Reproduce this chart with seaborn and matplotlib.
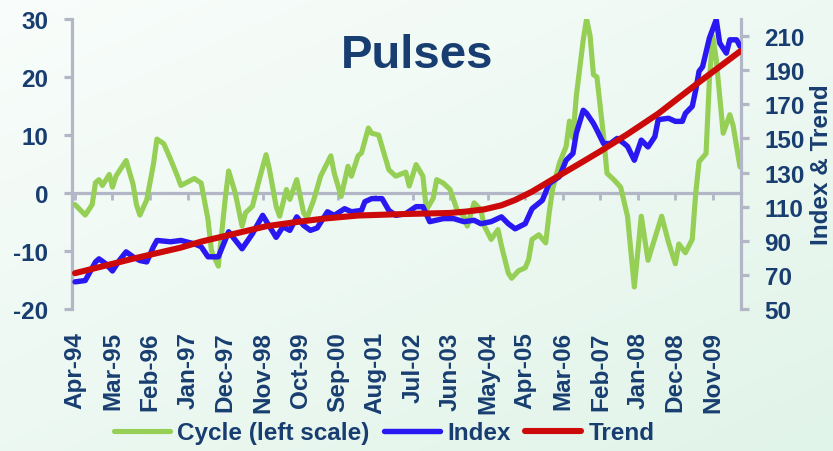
import numpy as np
import pandas as pd
import matplotlib
matplotlib.use("Agg")
import matplotlib.pyplot as plt
import matplotlib.dates as mdates
import seaborn as sns
from matplotlib.colors import LinearSegmentedColormap
from matplotlib.lines import Line2D

# ---------------- data ----------------
cycle_dates = [
    "1994-04", "1994-07", "1994-09", "1994-10", "1994-11", "1994-12",
    "1995-02", "1995-03", "1995-04", "1995-07", "1995-09", "1995-10", "1995-11",
    "1996-01", "1996-03", "1996-04", "1996-06", "1996-08", "1996-10", "1996-11",
    "1997-03", "1997-05", "1997-07", "1997-08", "1997-10", "1997-12",
    "1998-01", "1998-03", "1998-05", "1998-06", "1998-08", "1998-10", "1998-12",
    "1999-01", "1999-03", "1999-04", "1999-06", "1999-07", "1999-09", "1999-11", "1999-12",
    "2000-02", "2000-04", "2000-07", "2000-08", "2000-10", "2000-11", "2000-12",
    "2001-01", "2001-03", "2001-04", "2001-06", "2001-07", "2001-09", "2001-10", "2001-12",
    "2002-02", "2002-05", "2002-06", "2002-08", "2002-10", "2002-11",
    "2003-01", "2003-02", "2003-04", "2003-06", "2003-08", "2003-10", "2003-11",
    "2004-01", "2004-03", "2004-04", "2004-06", "2004-08", "2004-09", "2004-11", "2004-12",
    "2005-02", "2005-04", "2005-05", "2005-06", "2005-08", "2005-10", "2005-11", "2005-12",
    "2006-02", "2006-04", "2006-05", "2006-06", "2006-07", "2006-09", "2006-10", "2006-11", "2006-12",
    "2007-01", "2007-03", "2007-04", "2007-06", "2007-08", "2007-10", "2007-12",
    "2008-02", "2008-04", "2008-08", "2008-10", "2008-12",
    "2009-01", "2009-03", "2009-05", "2009-06", "2009-07", "2009-09", "2009-10", "2009-11", "2009-12",
    "2010-02", "2010-04", "2010-05", "2010-07",
]
cycle_values = [
    -2.0, -3.8, -2.0, 1.8, 2.3, 1.3,
    3.2, 1.0, 2.9, 5.6, 1.5, -2.0, -3.8,
    -1.2, 5.0, 9.3, 8.5, 5.8, 2.9, 1.3,
    2.5, 1.7, -4.6, -10.0, -12.6, -1.1,
    3.8, 0.0, -5.7, -3.4, -2.3, 2.3, 6.6,
    4.0, -2.3, -4.0, 0.6, -1.1, 2.3, -3.4, -4.3,
    -1.1, 2.9, 6.4, 3.4, -0.6, 2.0, 4.6,
    2.9, 6.4, 6.9, 11.2, 10.3, 10.0, 8.0, 4.0,
    2.9, 3.6, 1.2, 4.9, 2.9, -2.9,
    -0.9, 2.3, 1.7, 0.6, -2.9, -4.0, -5.7,
    -1.7, -2.9, -5.7, -8.0, -6.3, -9.1, -13.8, -14.7,
    -13.4, -12.9, -11.5, -8.0, -7.2, -8.6, -3.4, 0.6,
    5.2, 8.0, 12.4, 9.5, 16.7, 26.4, 30.0, 27.1, 20.4,
    20.0, 9.8, 3.4, 2.3, 1.0, -4.0, -16.2,
    -4.0, -11.6, -4.0, -8.5, -12.2,
    -8.8, -10.3, -8.0, 0.0, 5.4, 6.8, 19.5, 27.0, 23.0,
    10.3, 13.5, 11.6, 4.5,
]

index_dates = [
    "1994-04", "1994-07", "1994-10", "1994-11",
    "1995-01", "1995-03", "1995-05", "1995-07", "1995-09", "1995-11",
    "1996-01", "1996-03", "1996-04", "1996-08", "1996-11",
    "1997-03", "1997-05", "1997-07", "1997-10",
    "1998-01", "1998-05", "1998-08", "1998-11",
    "1999-03", "1999-05", "1999-07", "1999-09", "1999-11",
    "2000-01", "2000-03", "2000-06", "2000-08", "2000-11",
    "2001-01", "2001-04", "2001-05", "2001-07", "2001-10", "2001-12",
    "2002-02", "2002-05", "2002-08", "2002-10", "2002-12",
    "2003-04", "2003-07", "2003-10",
    "2004-01", "2004-03", "2004-06", "2004-09", "2004-11",
    "2005-01", "2005-04", "2005-06", "2005-09", "2005-11",
    "2006-02", "2006-04", "2006-06", "2006-07", "2006-09", "2006-10", "2006-12",
    "2007-01", "2007-03", "2007-05", "2007-07", "2007-09", "2007-10", "2007-12",
    "2008-02", "2008-04", "2008-06", "2008-07", "2008-10", "2008-12",
    "2009-02", "2009-03", "2009-05", "2009-06", "2009-07", "2009-08", "2009-10", "2009-12",
    "2010-01", "2010-03", "2010-04", "2010-06", "2010-07",
]
index_values = [
    65.9, 66.7, 77.6, 79.4,
    76.5, 72.3, 78.4, 83.5, 80.6, 78.4,
    77.6, 86.5, 90.2, 89.4, 90.2,
    88.2, 86.5, 80.6, 80.6,
    95.3, 85.3, 94.1, 104.9,
    92.0, 98.2, 96.1, 104.0, 99.0,
    96.1, 97.5, 107.0, 104.9, 108.8,
    107.0, 107.8, 112.9, 114.7, 114.7, 107.8,
    104.9, 105.9, 110.0, 110.0, 101.2,
    103.0, 103.0, 101.2,
    102.0, 100.0, 101.2, 104.0, 100.0,
    97.0, 100.0, 108.8, 113.7, 123.5,
    127.6, 137.2, 141.2, 153.0, 166.5, 164.7, 158.8,
    154.9, 147.0, 147.0, 150.0, 147.0, 145.3, 137.2,
    149.0, 145.0, 151.0, 161.0, 161.8, 160.0,
    160.0, 164.7, 168.8, 178.4, 189.4, 192.0, 208.8, 219.6,
    205.9, 200.0, 207.8, 207.8, 204.0,
]

trend_dates = [
    "1994-04", "1995-09", "1996-11", "1997-05", "1998-12", "1999-09",
    "2000-05", "2001-03", "2002-05", "2003-06", "2003-11", "2004-04",
    "2004-09", "2005-01", "2005-06", "2005-11", "2006-04", "2006-09",
    "2007-02", "2007-10", "2008-07", "2009-07", "2010-07",
]
trend_values = [
    71.0, 79.5, 86.0, 89.5, 98.5, 101.0,
    103.0, 104.8, 105.7, 106.3, 107.2, 108.4,
    110.8, 113.9, 118.8, 124.8, 130.6, 136.5,
    142.5, 152.5, 164.5, 183.0, 201.0,
]

x_tick_labels = ["Apr-94", "Mar-95", "Feb-96", "Jan-97", "Dec-97", "Nov-98",
                 "Oct-99", "Sep-00", "Aug-01", "Jul-02", "Jun-03", "May-04",
                 "Apr-05", "Mar-06", "Feb-07", "Jan-08", "Dec-08", "Nov-09"]
left_ticks = [-20, -10, 0, 10, 20, 30]
right_ticks = [50, 70, 90, 110, 130, 150, 170, 190, 210]

series_names = ["Cycle (left scale)", "Index", "Trend"]
title_text = "Pulses"
right_label = "Index & Trend"

# ---------------- style ----------------
sns.set_theme(style="white")
plt.rcParams["font.family"] = ["Liberation Sans", "DejaVu Sans"]
plt.rcParams["font.weight"] = "bold"
plt.rcParams["axes.unicode_minus"] = False

NAVY = "#183d70"
GRAY = "#b3b6c6"
GREEN = "#96cf55"
BLUE = "#2a18f2"
RED = "#cc0a0a"
FS = 17.5

W, H = 833, 452
fig = plt.figure(figsize=(W / 100, H / 100), dpi=100)

# soft gradient background
bg = fig.add_axes([0, 0, 1, 1], zorder=-10)
gx, gy = np.meshgrid(np.linspace(0, 1, 200), np.linspace(0, 1, 200))
grad = 0.45 * gx + 0.55 * gy
cmap = LinearSegmentedColormap.from_list("bg", ["#f9fdfb", "#e1f4e9"])
bg.imshow(grad, cmap=cmap, aspect="auto", extent=[0, 1, 0, 1], origin="upper")
bg.set_axis_off()

L, R, T, B = 72, 741, 20, 310
ax = fig.add_axes([L / W, 1 - B / H, (R - L) / W, (B - T) / H])
ax.patch.set_alpha(0)

cyc = pd.DataFrame({"date": pd.to_datetime(cycle_dates), "value": cycle_values})
idx = pd.DataFrame({"date": pd.to_datetime(index_dates), "value": index_values})
trd = pd.DataFrame({"date": pd.to_datetime(trend_dates), "value": trend_values})

xmin, xmax = pd.Timestamp("1994-03-05"), pd.Timestamp("2010-07-10")

sns.lineplot(data=cyc, x="date", y="value", ax=ax, color=GREEN, lw=3.7,
             zorder=3, legend=False, solid_joinstyle="round")
ax.set_ylim(-20, 30)
ax.set_yticks(left_ticks)
ax.set_xlim(xmin, xmax)

ax2 = ax.twinx()
sns.lineplot(data=idx, x="date", y="value", ax=ax2, color=BLUE, lw=3.9,
             zorder=3, legend=False, solid_joinstyle="round")
sns.lineplot(data=trd, x="date", y="value", ax=ax2, color=RED, lw=4.4,
             zorder=4, legend=False, solid_joinstyle="round")
ax2.set_ylim(50, 220)
ax2.set_yticks(right_ticks)
ax2.set_xlim(xmin, xmax)

for a in (ax, ax2):
    a.set_xlabel("")
    a.set_ylabel("")
    a.grid(False)
    for s in a.spines.values():
        s.set_visible(False)

ax.spines["left"].set_visible(True)
ax.spines["left"].set_color(GRAY)
ax.spines["left"].set_linewidth(2.3)
ax.spines["bottom"].set_visible(True)
ax.spines["bottom"].set_position(("data", 0))
ax.spines["bottom"].set_color(GRAY)
ax.spines["bottom"].set_linewidth(2.3)
ax.spines["bottom"].set_zorder(2)
ax2.spines["right"].set_visible(True)
ax2.spines["right"].set_color(GRAY)
ax2.spines["right"].set_linewidth(2.3)

tick_dates = pd.to_datetime(x_tick_labels, format="%b-%y")
ax.set_xticks(tick_dates)
ax.tick_params(axis="x", which="both", direction="out", length=5, width=2,
               color=GRAY, labelbottom=False, bottom=True)
ax.tick_params(axis="y", direction="out", length=6, width=2.3, color=GRAY,
               pad=11, labelsize=FS, labelcolor=NAVY, left=True)
ax2.tick_params(axis="y", direction="out", length=6, width=2.3, color=GRAY,
                pad=11, labelsize=FS, labelcolor=NAVY, right=True)

sec = ax.secondary_xaxis("bottom")
sec.set_xticks(mdates.date2num(tick_dates), labels=x_tick_labels)
sec.tick_params(axis="x", length=0, pad=16, labelsize=FS, labelcolor=NAVY,
                rotation=90)
sec.spines["bottom"].set_visible(False)
for lab in sec.get_xticklabels():
    lab.set_fontweight("bold")
for lab in ax.get_yticklabels() + ax2.get_yticklabels():
    lab.set_fontweight("bold")

fig.text(417 / W, 1 - 68 / H, title_text, fontsize=34, fontweight="bold",
         color=NAVY, ha="center", va="baseline")
fig.text(822 / W, 1 - 165 / H, right_label, rotation=90, fontsize=FS,
         fontweight="bold", color=NAVY, ha="center", va="center")

handles = [Line2D([], [], color=GREEN, lw=3.7),
           Line2D([], [], color=BLUE, lw=3.9),
           Line2D([], [], color=RED, lw=4.4)]
fig.legend(handles, series_names, loc="center", bbox_to_anchor=(384 / W, 1 - 434 / H),
           ncol=3, frameon=False, labelcolor=NAVY,
           handlelength=2.3, handletextpad=0.3, columnspacing=0.6,
           prop={"weight": "bold", "size": FS})

fig.savefig("out.png", dpi=100)
